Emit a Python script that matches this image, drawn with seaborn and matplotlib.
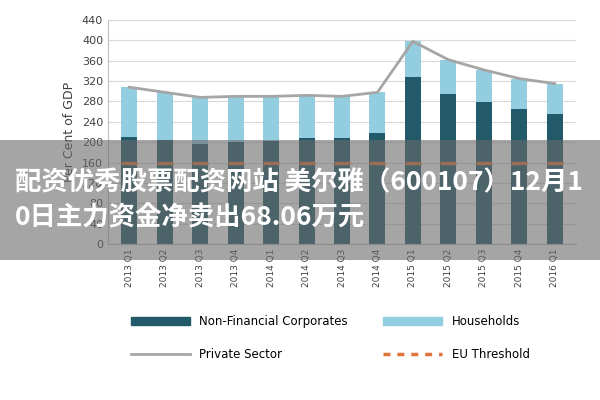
import matplotlib
matplotlib.use('Agg')
import matplotlib.pyplot as plt
from matplotlib import font_manager as fm
from matplotlib.patches import Rectangle, Patch
from matplotlib.lines import Line2D
import seaborn as sns
import pandas as pd

quarters = ['2013 Q1', '2013 Q2', '2013 Q3', '2013 Q4', '2014 Q1', '2014 Q2', '2014 Q3',
            '2014 Q4', '2015 Q1', '2015 Q2', '2015 Q3', '2015 Q4', '2016 Q1']
non_financial = [210, 205, 197, 200, 202, 208, 208, 218, 328, 295, 278, 265, 255]
households = [98, 93, 91, 90, 88, 84, 82, 80, 70, 67, 64, 60, 60]
private_sector = [308, 298, 288, 290, 290, 292, 290, 298, 398, 362, 342, 325, 315]
eu_threshold = [160] * len(quarters)

DARK = '#235a6a'
LIGHT = '#92cde0'
GREY = '#a6a6a6'
ORANGE = '#e0743a'

# pick an installed sans CJK font file, bold if possible
cjk = [f for f in fm.fontManager.ttflist if 'Sans CJK' in f.name]
cjk_sc = [f for f in cjk if 'SC' in f.name] or cjk
cjk_bold = [f for f in cjk_sc if f.weight in ('bold', 700)] or cjk_sc
if cjk_bold:
    cjk_prop = fm.FontProperties(fname=cjk_bold[0].fname, size=19, weight='bold')
else:
    cjk_prop = fm.FontProperties(family='Noto Sans CJK SC', size=19, weight='bold')

df = pd.DataFrame({'q': quarters, 'nf': non_financial,
                   'total': [a + b for a, b in zip(non_financial, households)]})

fig = plt.figure(figsize=(6, 4), dpi=100)
ax = fig.add_axes([0.18, 0.39, 0.78, 0.56])

sns.barplot(data=df, x='q', y='total', color=LIGHT, width=0.45, ax=ax, saturation=1)
sns.barplot(data=df, x='q', y='nf', color=DARK, width=0.45, ax=ax, saturation=1)
ax.plot(range(len(quarters)), private_sector, color=GREY, lw=2)
ax.plot(range(len(quarters)), eu_threshold, ls='none', marker='_', ms=12, mew=2.5, color=ORANGE)

ax.set_ylim(0, 440)
ax.set_yticks(range(0, 441, 40))
ax.set_xlim(-0.6, len(quarters) - 0.4)
ax.grid(axis='y', color='#d9d9d9', lw=0.8)
ax.set_axisbelow(True)
for s in ['top', 'right']:
    ax.spines[s].set_visible(False)
ax.spines['left'].set_color('#bfbfbf')
ax.spines['bottom'].set_color('#bfbfbf')
ax.set_xlabel('')
ax.set_ylabel('Per Cent of GDP', fontsize=9, color='#404040')
ax.tick_params(axis='x', rotation=90, labelsize=6.5, colors='#404040', length=0)
ax.tick_params(axis='y', labelsize=8, colors='#404040', length=0)

handles = [Patch(color=DARK), Line2D([], [], color=GREY, lw=2),
           Patch(color=LIGHT), Line2D([], [], color=ORANGE, lw=2.5, ls=(0, (2, 2)))]
labels = ['Non-Financial Corporates', 'Private Sector', 'Households', 'EU Threshold']
fig.legend(handles, labels, loc='lower left', bbox_to_anchor=(0.2, 0.07), ncol=2,
           frameon=False, fontsize=8.5, columnspacing=3, handlelength=5, labelspacing=1.7,
           handleheight=0.6)

# overlay banner
fig.patches.append(Rectangle((0, 0.35), 1, 0.3, transform=fig.transFigure,
                             facecolor='#6a6a6a', alpha=0.6, zorder=10))
fig.text(0.025, 0.542, '配资优秀股票配资网站 美尔雅（600107）12月1', ha='left', va='center',
         fontproperties=cjk_prop, color='white', zorder=11)
fig.text(0.025, 0.455, '0日主力资金净卖出68.06万元', ha='left', va='center',
         fontproperties=cjk_prop, color='white', zorder=11)

fig.savefig('out.png', dpi=100)
